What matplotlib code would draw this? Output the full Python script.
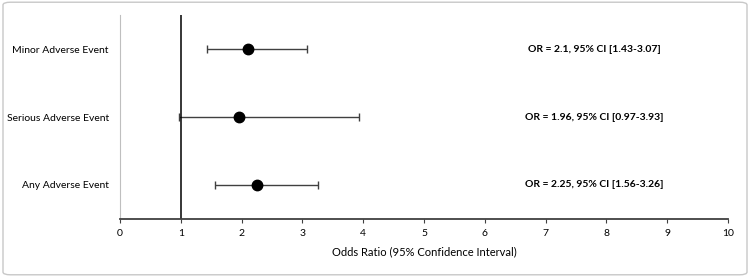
import matplotlib.pyplot as plt
from matplotlib.patches import FancyBboxPatch

# DATA
events = ['Any Adverse Event', 'Serious Adverse Event', 'Minor Adverse Event']
odds = [2.25, 1.96, 2.1]
ci_low = [1.56, 0.97, 1.43]
ci_high = [3.26, 3.93, 3.07]
labels = ['OR = 2.25, 95% CI [1.56-3.26]',
          'OR = 1.96, 95% CI [0.97-3.93]',
          'OR = 2.1, 95% CI [1.43-3.07]']
xticks = list(range(0, 11))

plt.rcParams['font.family'] = ['Lato', 'DejaVu Sans']

fig = plt.figure(figsize=(7.5, 2.77), dpi=100)
ax = fig.add_axes([0.16, 0.2094, 0.8107, 0.7364])

ypos = list(range(1, len(events) + 1))
err = [[o - l for o, l in zip(odds, ci_low)], [h - o for o, h in zip(odds, ci_high)]]
ax.errorbar(odds, ypos, xerr=err, fmt='o', color='black', ecolor='#404040',
            elinewidth=1, capsize=3, capthick=1, markersize=7.5)

ax.axvline(1, color='black', linewidth=1.1)

for y, t in zip(ypos, labels):
    ax.text(7.8, y, t, ha='center', va='center', fontsize=7.5, fontweight='bold')

ax.set_xlim(0, 10)
ax.set_ylim(0.5, 3.5)
ax.set_xticks(xticks)
ax.set_yticks(ypos)
ax.set_yticklabels(events, fontsize=7.5)
ax.tick_params(axis='x', labelsize=7.5, direction='out', length=3, width=0.8, color='#404040', pad=4)
ax.tick_params(axis='y', length=0, pad=8)
ax.set_xlabel('Odds Ratio (95% Confidence Interval)', fontsize=8, labelpad=6)

for s in ['top', 'right']:
    ax.spines[s].set_visible(False)
ax.spines['left'].set_color('#bfbfbf')
ax.spines['left'].set_linewidth(0.8)
ax.spines['bottom'].set_color('#404040')
ax.spines['bottom'].set_linewidth(1.3)

border = FancyBboxPatch((0.004, 0.008), 0.992, 0.984, boxstyle='round,pad=0,rounding_size=0.01',
                        transform=fig.transFigure, fill=False, edgecolor='#c8c8c8', linewidth=1)
fig.patches.append(border)

fig.savefig('out.png', dpi=100)
